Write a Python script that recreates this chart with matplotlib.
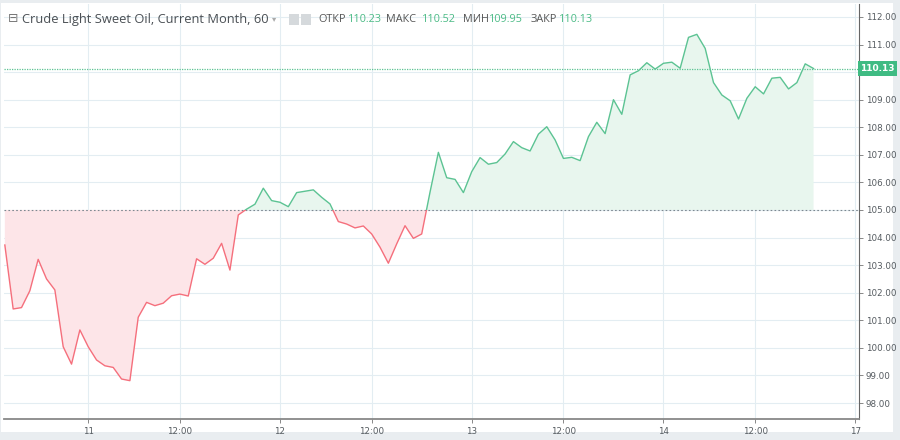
import matplotlib
matplotlib.use("Agg")
import matplotlib.pyplot as plt
from matplotlib.patches import Rectangle
import numpy as np

# hourly closes, 23 bars per trading day
prices = [
    103.73, 101.41, 101.46, 102.07, 103.21, 102.50, 102.10, 100.04, 99.41, 100.65,
    100.04, 99.56, 99.35, 99.29, 98.87, 98.81, 101.11, 101.65, 101.53, 101.62,
    101.89, 101.95, 101.88, 103.23, 103.03, 103.25, 103.79, 102.82, 104.82, 105.03,
    105.21, 105.79, 105.34, 105.28, 105.12, 105.63, 105.68, 105.73, 105.46, 105.22,
    104.58, 104.49, 104.35, 104.42, 104.13, 103.65, 103.07, 103.77, 104.43, 103.97,
    104.13, 105.65, 107.09, 106.17, 106.11, 105.63, 106.39, 106.90, 106.66, 106.72,
    107.03, 107.48, 107.26, 107.14, 107.75, 108.02, 107.54, 106.87, 106.91, 106.79,
    107.66, 108.18, 107.77, 109.00, 108.47, 109.90, 110.05, 110.34, 110.11, 110.32,
    110.36, 110.14, 111.26, 111.37, 110.86, 109.62, 109.17, 108.96, 108.30, 109.05,
    109.47, 109.21, 109.78, 109.81, 109.39, 109.62, 110.30, 110.13,
]
base_price = 105.0
last_price = 110.13
bar_open, bar_high, bar_low, bar_close = "110.23", "110.52", "109.95", "110.13"

tick_pos = [10, 21, 33, 44, 56, 67, 79, 90, 102]
tick_labels = ["11", "12:00", "12", "12:00", "13", "12:00", "14", "12:00", "17"]
price_ticks = list(range(98, 113))

green = "#5cc393"
green_fill = "#e8f6ee"
red = "#f56f7c"
red_fill = "#fde5e8"
grid_c = "#e3edf2"
txt = "#555b60"

W, H = 900, 440
fig = plt.figure(figsize=(9, 4.4), dpi=100, facecolor="#e9edf0")
fig.patches.append(Rectangle((1 / W, 8 / H), 892 / W, 429 / H, transform=fig.transFigure,
                             facecolor="white", edgecolor="none", zorder=-5))

ax = fig.add_axes([4 / W, (H - 419) / H, 855 / W, 415 / H])
ax.set_zorder(2)
ax.set_facecolor("white")

x = np.arange(len(prices))
p = np.array(prices)
xmin, xmax = -0.1, 102.45
ax.set_xlim(xmin, xmax)
ax.set_ylim(97.42, 112.47)

ax.fill_between(x, p, base_price, where=p >= base_price, interpolate=True,
                color=green_fill, lw=0, zorder=1)
ax.fill_between(x, p, base_price, where=p <= base_price, interpolate=True,
                color=red_fill, lw=0, zorder=1)

up, = ax.plot(x, p, color=green, lw=1.0, zorder=3)
up.set_clip_path(Rectangle((xmin, base_price), xmax - xmin, 20, transform=ax.transData))
dn, = ax.plot(x, p, color=red, lw=1.0, zorder=3)
dn.set_clip_path(Rectangle((xmin, base_price - 20), xmax - xmin, 20, transform=ax.transData))

ax.axhline(base_price, color="#7d8890", lw=0.8, ls=(0, (1.5, 2)), zorder=2)
ax.axhline(last_price, color=green, lw=0.9, ls=(0, (1, 1)), zorder=2)

ax.set_yticks(price_ticks)
# 110.00 sits under the last-price label
ax.set_yticklabels(["" if v == 110 else "%.2f" % v for v in price_ticks])
ax.set_xticks(tick_pos)
ax.set_xticklabels(tick_labels)
ax.grid(True, color=grid_c, lw=0.8, zorder=0)
ax.set_axisbelow(True)

ax.yaxis.tick_right()
ax.tick_params(axis="y", direction="out", length=3, width=0.7, color="#888",
               labelsize=6.3, labelcolor=txt, pad=2)
ax.tick_params(axis="x", direction="out", length=3, width=0.7, color="#888",
               labelsize=6.3, labelcolor=txt, pad=3)
for s in ["top", "left"]:
    ax.spines[s].set_visible(False)
ax.spines["right"].set_color("#666")
ax.spines["bottom"].set_color("#888")
ax.spines["bottom"].set_linewidth(1.3)

# last price label on the scale
ax.text(1.0015, last_price, "110.13", transform=ax.get_yaxis_transform(),
        ha="left", va="center", fontsize=6.5, color="white", fontweight="bold",
        bbox=dict(boxstyle="square,pad=0.3", fc="#3fbb83", ec="none"), zorder=5,
        clip_on=False)

# header
fy = 1 - 19 / H
fig.text(8 / W, fy, "⊟", fontsize=9, color="#777", va="center", ha="left", zorder=10)
fig.text(22 / W, fy, "Crude Light Sweet Oil, Current Month, 60", fontsize=9.3,
         color="#4a4f54", va="center", ha="left", family="Open Sans", zorder=10)
fig.text(272 / W, fy, "▾", fontsize=6, color="#aaa", va="center", ha="left", zorder=10)
for bx in [289, 301]:
    fig.patches.append(Rectangle((bx / W, (H - 25) / H), 10 / W, 11 / H,
                                 transform=fig.transFigure, fc="#d5d9dc", ec="none",
                                 zorder=10))
items = [("ОТКР", 318, bar_open, 348), ("МАКС", 386, bar_high, 422),
         ("МИН", 463, bar_low, 489), ("ЗАКР", 531, bar_close, 559)]
for lab, lx, val, vx in items:
    fig.text(lx / W, fy, lab, fontsize=7.8, color="#555", va="center", ha="left",
             family="Open Sans", zorder=10)
    fig.text(vx / W, fy, val, fontsize=7.8, color="#4cbb86", va="center", ha="left",
             family="Open Sans", zorder=10)

fig.savefig("out.png", dpi=100, facecolor=fig.get_facecolor())
